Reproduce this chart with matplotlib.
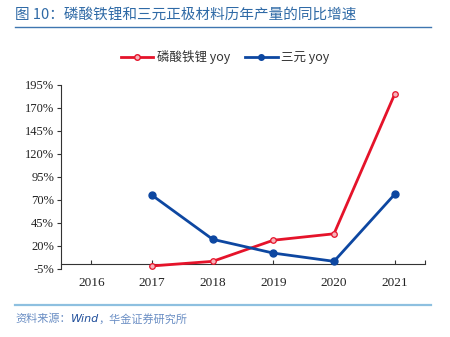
import matplotlib
matplotlib.use("Agg")
import matplotlib.pyplot as plt
from matplotlib.lines import Line2D

plt.rcParams['font.family'] = ['Noto Sans CJK SC', 'DejaVu Sans']

years = ['2016', '2017', '2018', '2019', '2020', '2021']
lfp_yoy = [None, -2, 3, 26, 33, 185]
ncm_yoy = [None, 75, 27, 12, 3, 76]
yticks = [-5, 20, 45, 70, 95, 120, 145, 170, 195]

title = '图 10：磷酸铁锂和三元正极材料历年产量的同比增速'
series_names = ['磷酸铁锂 yoy', '三元 yoy']

W, H = 450, 337
fig = plt.figure(figsize=(W / 100, H / 100), dpi=100)

def fx(px):
    return px / W

def fy(py):
    return 1 - py / H

ax = fig.add_axes([fx(61), fy(268.7), fx(425 - 61), fy(85) - fy(268.7)])

red = '#e5132a'
blue = '#0d47a1'
x = list(range(len(years)))
xr = [i for i, v in zip(x, lfp_yoy) if v is not None]
yr = [v for v in lfp_yoy if v is not None]
xb = [i for i, v in zip(x, ncm_yoy) if v is not None]
yb = [v for v in ncm_yoy if v is not None]

ax.plot(xr, yr, color=red, lw=2.0, marker='o', ms=4, mfc='#f6b3ba', mec=red, mew=0.9,
        solid_joinstyle='round', zorder=3)
ax.plot(xb, yb, color=blue, lw=2.0, marker='o', ms=5, mfc=blue, mec=blue,
        solid_joinstyle='round', zorder=3)

ax.set_xlim(-0.5, 5.5)
ax.set_ylim(-5, 195)
ax.set_xticks(x)
ax.set_xticks([5.5], minor=True)
ax.set_xticklabels(years)
ax.set_yticks(yticks)
ax.set_yticklabels([f'{v}%' for v in yticks])

for s in ['top', 'right']:
    ax.spines[s].set_visible(False)
ax.spines['bottom'].set_position(('data', 0))
ax.spines['bottom'].set_color('#333333')
ax.spines['left'].set_color('#333333')
ax.spines['bottom'].set_linewidth(0.8)
ax.spines['left'].set_linewidth(0.8)
ax.tick_params(axis='y', direction='out', length=3, width=0.8, color='#333333', pad=2)
ax.tick_params(axis='x', which='both', direction='in', length=3, width=0.8, color='#333333', pad=9)

for lab in ax.get_yticklabels():
    lab.set_fontfamily('Liberation Serif')
    lab.set_fontsize(9)
    lab.set_color('#222222')
for lab in ax.get_xticklabels():
    lab.set_fontfamily('Liberation Serif')
    lab.set_fontsize(9.5)
    lab.set_color('#222222')

# legend
handles = [Line2D([0], [0], color=red, lw=2.0, marker='o', ms=4, mfc='#f6b3ba', mec=red),
           Line2D([0], [0], color=blue, lw=2.0, marker='o', ms=4, mfc=blue, mec=blue)]
fig.legend(handles, series_names, loc='center', bbox_to_anchor=(fx(225), fy(57)), ncol=2,
           frameon=False, fontsize=9, handlelength=2.6, columnspacing=1.2, handletextpad=0.3,
           labelcolor='#333333')

# title and rules
fig.text(fx(15), fy(15), title, fontsize=10.5, color='#2f6aa6', va='center', ha='left')
fig.add_artist(Line2D([fx(15), fx(431)], [fy(27), fy(27)], color='#3f76b0', lw=1.0))
fig.add_artist(Line2D([fx(15), fx(431)], [fy(305), fy(305)], color='#8ec0e0', lw=1.6))

t1 = fig.text(fx(15), fy(319), '资料来源：', fontsize=8, color='#6a8ec4', va='center', ha='left', style='italic')
fig.canvas.draw()
r = fig.canvas.get_renderer()
bb = t1.get_window_extent(r)
t2 = fig.text(bb.x1 / W, fy(319), 'Wind', fontsize=8, color='#1f4e9a', va='center', ha='left',
              style='italic', family='DejaVu Sans')
bb2 = t2.get_window_extent(r)
fig.text(bb2.x1 / W, fy(319), '，华金证券研究所', fontsize=8, color='#6a8ec4', va='center', ha='left', style='italic')

fig.savefig('out.png', dpi=100)
